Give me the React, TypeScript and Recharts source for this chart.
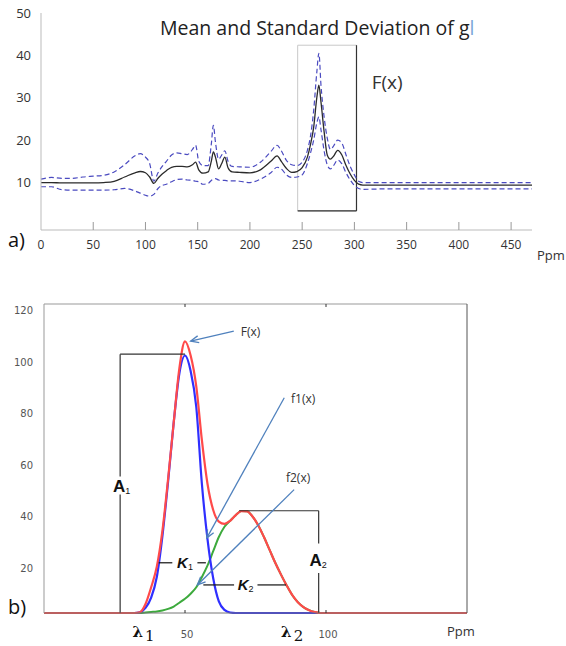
import React from "react";
import {
  LineChart,
  Line,
  XAxis,
  YAxis,
  ReferenceArea,
  ReferenceLine,
  ReferenceDot,
} from "recharts";

// ---- a) mean / standard deviation trace
const TOP_X = [
  0, 10, 20, 30, 40, 50, 60, 70, 80, 90, 95, 100, 104, 108, 112, 116, 120, 125, 130, 135, 140,
  145, 148, 151, 155, 160, 163, 165, 167, 170, 173, 176, 179, 183, 190, 200, 210, 220, 226, 230,
  235, 240, 245, 250, 255, 258, 261, 264, 266, 268, 271, 274, 277, 280, 284, 288, 292, 296, 300,
  304, 308, 330, 350, 370, 390, 410, 430, 450, 470,
];
const TOP_MEAN = [
  10, 10, 9.9, 9.9, 9.9, 9.9, 10, 10.3, 11.3, 12.3, 12.6, 12.3, 11.3, 9.8, 11, 12, 12.8, 13.6,
  13.8, 13.8, 13.7, 14.2, 14.8, 13, 12.2, 12.5, 15, 17.2, 16, 13.2, 14.5, 16, 13.5, 12.5, 12.4,
  12.3, 13, 15, 16.3, 15, 13.3, 12.4, 12.6, 13.5, 16, 19, 23, 30, 33, 29, 22, 16.5, 15.5, 16.2,
  17.6, 16.5, 14, 12, 10.5, 9.6, 9.4, 9.4, 9.4, 9.4, 9.4, 9.4, 9.4, 9.4, 9.4,
];
const TOP_UPPER = [
  10.8, 11.2, 11, 11, 11.3, 11.5, 11.7, 12.5, 14.2, 16.3, 16.8, 16, 14.5, 10.3, 12.3, 13.8, 15,
  16.5, 17, 16.8, 16.6, 17.8, 18.8, 15, 14, 14, 19, 23.5, 19.5, 15.5, 16.5, 17.5, 15, 13.8, 13.7,
  13.6, 14.8, 17.3, 18.8, 17.5, 15.2, 14.2, 14, 14.8, 17.6, 21, 27, 36, 40.5, 33, 25.5, 20.5,
  17.8, 18.6, 20, 19.3, 16.5, 13.8, 11.8, 10.3, 10, 10, 10, 10, 10, 10, 10, 10, 10,
];
const TOP_LOWER = [
  9, 9, 8.3, 8.2, 8.2, 8.2, 8.2, 8.3, 8.6, 8, 7.5, 7, 6.8, 7.2, 8.6, 9.3, 9.6, 10.2, 10.7, 10.8,
  10.6, 10.5, 10.3, 10.2, 9.6, 9.8, 10.5, 10.8, 10.9, 10.6, 10.5, 10.5, 10.4, 10.4, 10.3, 10,
  10.8, 12.3, 13.6, 13.2, 11.8, 11.2, 11.3, 11.8, 14.5, 17, 20, 24, 25.5, 22.5, 17.5, 14.2, 13.2,
  14, 15.3, 14.4, 12.3, 10.6, 9.3, 8.6, 8.4, 8.5, 8.5, 8.5, 8.5, 8.5, 8.5, 8.5, 8.5,
];
const TOP_X_TICKS = [0, 50, 100, 150, 200, 250, 300, 350, 400, 450];
const TOP_Y_TICKS = [10, 20, 30, 40, 50];

// ---- b) decomposition of F(x) into f1(x) + f2(x)
const BOT_X = [
  0, 30, 32, 34, 36, 38, 40, 42, 44, 46, 48, 50, 52, 54, 56, 58, 60, 62, 64, 66, 68, 70, 72, 74,
  76, 78, 80, 82, 84, 86, 88, 90, 92, 94, 96, 98, 100, 150,
];
const BOT_F = [
  0, 0, 0, 0.3, 3.5, 10, 18, 32, 52, 74, 95, 105.5, 100, 88, 67, 50, 40, 35.5, 34.6, 35.8, 38,
  39.6, 39.5, 37.4, 34, 29.5, 24.5, 19.5, 15, 10.8, 7, 4.2, 2.3, 1.1, 0.4, 0, 0, 0,
];
const BOT_F1 = [
  0, 0, 0, 0.3, 2, 6, 14, 30, 51, 74, 93, 100, 94, 80, 50, 28.5, 13.5, 4.5, 1.2, 0.2, 0, 0, 0, 0,
  0, 0, 0, 0, 0, 0, 0, 0, 0, 0, 0, 0, 0, 0,
];
const BOT_F2 = [
  0, 0, 0, 0, 0.2, 0.4, 0.6, 1, 1.6, 2.5, 4, 5.5, 7.5, 10, 14, 18.5, 24, 29.5, 33.5, 35.8, 38,
  39.6, 39.5, 37.4, 34, 29.5, 24.5, 19.5, 15, 10.8, 7, 4.2, 2.3, 1.1, 0.4, 0, 0, 0,
];
const BOT_X_TICKS = [50, 100];
const BOT_Y_TICKS = [20, 40, 60, 80, 100, 120];
const BOT_RIGHT_TICKS = [20, 40, 60, 80, 100];

const SANS = "'Open Sans', 'Liberation Sans', sans-serif";
const SMALL = "'DejaVu Sans', sans-serif";
const ARROW = "#4f81bd";
const INK = "#333";

const topData = TOP_X.map((x, i) => ({
  x,
  mean: TOP_MEAN[i],
  upper: TOP_UPPER[i],
  lower: TOP_LOWER[i],
}));

const botData = BOT_X.map((x, i) => ({
  x,
  F: BOT_F[i],
  f1: BOT_F1[i],
  f2: BOT_F2[i],
}));

function TopXTick(props: any) {
  const { x, y, payload } = props;
  return (
    <g>
      {payload.value !== 0 && <line x1={x} x2={x} y1={y} y2={y - 8} stroke="#999" />}
      <text x={x} y={y + 19} textAnchor="middle" fontSize={12} fill={INK} fontFamily={SANS}>
        {payload.value}
      </text>
    </g>
  );
}

function BotXTick(props: any) {
  const { x, y, payload } = props;
  return (
    <g>
      <line x1={x} x2={x} y1={y} y2={y - 3} stroke="#333" />
      <text x={x + 2} y={y + 25} textAnchor="middle" fontSize={10} fill="#555" fontFamily={SMALL}>
        {payload.value}
      </text>
    </g>
  );
}

function BotYTick(props: any) {
  const { x, y, payload } = props;
  return (
    <text x={x} y={y + 10} textAnchor="end" fontSize={10} fill="#555" fontFamily={SMALL}>
      {payload.value}
    </text>
  );
}

function NoTick() {
  return <g />;
}

// line with an open arrow head at (x2, y2)
function ArrowShape(props: any) {
  const { x1, y1, x2, y2 } = props;
  const a = Math.atan2(y2 - y1, x2 - x1);
  const L = 8;
  const W = 3.5;
  const bx = x2 - L * Math.cos(a);
  const by = y2 - L * Math.sin(a);
  const p1 = `${bx + W * Math.sin(a)},${by - W * Math.cos(a)}`;
  const p2 = `${bx - W * Math.sin(a)},${by + W * Math.cos(a)}`;
  return (
    <g>
      <line x1={x1} y1={y1} x2={x2} y2={y2} stroke={ARROW} strokeWidth={1.3} />
      <polyline points={`${p1} ${x2},${y2} ${p2}`} fill="none" stroke={ARROW} strokeWidth={1.3} />
    </g>
  );
}

const plainText = (s: string, size: number, anchor: string, dy: number) => (p: any) => (
  <text x={p.cx} y={p.cy + dy} textAnchor={anchor} fontSize={size} fill={INK} fontFamily={SANS}>
    {s}
  </text>
);

const subText =
  (main: string, sub: string, italic: boolean, size: number, subSize: number, dy: number) =>
  (p: any) => (
    <text
      x={p.cx}
      y={p.cy + dy}
      textAnchor="middle"
      fontFamily="'Liberation Sans', Arial, sans-serif"
      fill="#111"
    >
      <tspan fontWeight="bold" fontStyle={italic ? "italic" : "normal"} fontSize={size}>
        {main}
      </tspan>
      <tspan fontSize={subSize} dy={2}>
        {sub}
      </tspan>
    </text>
  );

const lambdaText = (sub: string) => (p: any) => (
  <text x={p.cx} y={p.cy + 24} textAnchor="middle" fontFamily="'DejaVu Serif', serif" fill="#111">
    <tspan fontWeight="bold" fontSize={15}>
      λ
    </tspan>
    <tspan fontSize={15} dx={2} dy={4}>
      {sub}
    </tspan>
  </text>
);

const seg = (x1: number, y1: number, x2: number, y2: number) => [
  { x: x1, y: y1 },
  { x: x2, y: y2 },
];

export default function App() {
  return (
    <div style={{ position: "absolute", left: 0, top: 0, width: 566, height: 646, background: "#fff" }}>
      {/* a) */}
      <div style={{ position: "absolute", left: 0, top: 0 }}>
        <LineChart width={566} height={260} data={topData} margin={{ top: 13, right: 34, left: 0, bottom: 0 }}>
          <XAxis
            dataKey="x"
            type="number"
            domain={[0, 470]}
            ticks={TOP_X_TICKS}
            interval={0}
            axisLine={{ stroke: "#bbb" }}
            tickLine={false}
            tickSize={0}
            tickMargin={0}
            height={30}
            tick={<TopXTick />}
          />
          <YAxis
            type="number"
            domain={[-1.2, 50]}
            ticks={TOP_Y_TICKS}
            interval={0}
            width={41}
            axisLine={{ stroke: "#bbb" }}
            tickLine={false}
            tickSize={0}
            tickMargin={10}
            tick={{ fontSize: 13, fill: INK, fontFamily: SANS }}
          />
          <ReferenceArea x1={245.7} x2={302} y1={3.3} y2={42.4} fill="none" stroke="#c8c8c8" />
          <ReferenceLine segment={seg(302, 3.3, 302, 42.4)} stroke="#333" strokeWidth={1.2} />
          <ReferenceLine segment={seg(245.7, 3.3, 302, 3.3)} stroke="#333" strokeWidth={1.2} />
          <Line type="monotone" dataKey="upper" stroke="#4a4ac0" strokeWidth={1.2} strokeDasharray="5 3" dot={false} isAnimationActive={false} />
          <Line type="monotone" dataKey="lower" stroke="#4a4ac0" strokeWidth={1.2} strokeDasharray="5 3" dot={false} isAnimationActive={false} />
          <Line type="monotone" dataKey="mean" stroke="#2b2b2b" strokeWidth={1.3} dot={false} isAnimationActive={false} />
          <ReferenceDot x={316.5} y={33.8} r={0} shape={plainText("F(x)", 19, "start", 7)} />
        </LineChart>
      </div>
      <div
        style={{
          position: "absolute",
          left: 160,
          top: 14,
          fontFamily: SANS,
          fontSize: 19.5,
          color: "#222",
          whiteSpace: "nowrap",
        }}
      >
        Mean and Standard Deviation of g<span style={{ color: "#7aa7d8" }}>l</span>
      </div>
      <div style={{ position: "absolute", left: 8, top: 226, fontFamily: SANS, fontSize: 20, color: "#111" }}>a)</div>
      <div style={{ position: "absolute", left: 537, top: 246, fontFamily: SANS, fontSize: 13, color: INK }}>Ppm</div>

      {/* b) */}
      <div style={{ position: "absolute", left: 0, top: 290 }}>
        <LineChart width={566} height={356} data={botData} margin={{ top: 14, right: 99, left: 0, bottom: 0 }}>
          <XAxis
            dataKey="x"
            type="number"
            domain={[0, 150]}
            ticks={BOT_X_TICKS}
            interval={0}
            axisLine={{ stroke: "#777" }}
            tickLine={false}
            tickSize={0}
            tickMargin={0}
            height={33}
            tick={<BotXTick />}
          />
          <XAxis
            xAxisId="top"
            dataKey="x"
            orientation="top"
            type="number"
            domain={[0, 150]}
            ticks={BOT_X_TICKS}
            interval={0}
            mirror
            height={1}
            tickSize={3}
            axisLine={{ stroke: "#999" }}
            tickLine={{ stroke: "#333" }}
            tick={<NoTick />}
          />
          <YAxis
            type="number"
            domain={[0, 120]}
            ticks={BOT_Y_TICKS}
            interval={0}
            width={44}
            axisLine={{ stroke: "#999" }}
            tickLine={false}
            tickSize={0}
            tickMargin={11}
            tick={<BotYTick />}
          />
          <YAxis
            yAxisId="r"
            orientation="right"
            type="number"
            domain={[0, 120]}
            ticks={BOT_RIGHT_TICKS}
            interval={0}
            mirror
            width={1}
            tickSize={6}
            axisLine={{ stroke: "#555" }}
            tickLine={{ stroke: "#444" }}
            tick={<NoTick />}
          />

          <Line type="monotone" dataKey="f2" stroke="#3daa3d" strokeWidth={2} dot={false} isAnimationActive={false} />
          <Line type="monotone" dataKey="f1" stroke="#2f2fff" strokeWidth={2.2} dot={false} isAnimationActive={false} />
          <Line type="monotone" dataKey="F" stroke="#ff4a4a" strokeWidth={2.2} dot={false} isAnimationActive={false} />

          {/* A1 bracket */}
          <ReferenceLine segment={seg(27, 100.5, 50, 100.5)} stroke={INK} strokeWidth={1.2} />
          <ReferenceLine segment={seg(27, 100.5, 27, 53)} stroke={INK} strokeWidth={1.2} />
          <ReferenceLine segment={seg(27, 46, 27, 0)} stroke={INK} strokeWidth={1.2} />
          <ReferenceDot x={27.5} y={49.5} r={0} shape={subText("A", "1", false, 17, 9, 6)} />

          {/* K1 width */}
          <ReferenceLine segment={seg(40.7, 19.5, 45.5, 19.5)} stroke="#111" strokeWidth={1.2} />
          <ReferenceLine segment={seg(54.4, 19.5, 57.4, 19.5)} stroke="#111" strokeWidth={1.2} />
          <ReferenceDot x={50} y={19.5} r={0} shape={subText("K", "1", true, 15, 9, 5)} />

          {/* K2 width */}
          <ReferenceLine segment={seg(56.5, 10.9, 67.4, 10.9)} stroke="#111" strokeWidth={1.2} />
          <ReferenceLine segment={seg(75.7, 10.9, 85.8, 10.9)} stroke="#111" strokeWidth={1.2} />
          <ReferenceDot x={71.5} y={10.9} r={0} shape={subText("K", "2", true, 15, 9, 5)} />

          {/* A2 bracket */}
          <ReferenceLine segment={seg(69.2, 39.7, 97.4, 39.7)} stroke={INK} strokeWidth={1.2} />
          <ReferenceLine segment={seg(97.4, 39.7, 97.4, 27)} stroke={INK} strokeWidth={1.2} />
          <ReferenceLine segment={seg(97.4, 15.5, 97.4, 0)} stroke={INK} strokeWidth={1.2} />
          <ReferenceDot x={97.2} y={20.6} r={0} shape={subText("A", "2", false, 17, 9, 6)} />

          {/* arrows to the curves */}
          <ReferenceLine segment={seg(67.3, 109.5, 52, 105.6)} shape={ArrowShape} />
          <ReferenceLine segment={seg(85.2, 83.6, 57.7, 29.1)} shape={ArrowShape} />
          <ReferenceLine segment={seg(88.7, 47.9, 54.4, 10.9)} shape={ArrowShape} />
          <ReferenceDot x={69.8} y={109} r={0} shape={plainText("F(x)", 12, "start", 4)} />
          <ReferenceDot x={87.6} y={83} r={0} shape={plainText("f1(x)", 12, "start", 4)} />
          <ReferenceDot x={85.8} y={52.6} r={0} shape={plainText("f2(x)", 12, "start", 4)} />

          <ReferenceDot x={35.3} y={0} r={0} ifOverflow="visible" shape={lambdaText("1")} />
          <ReferenceDot x={88} y={0} r={0} ifOverflow="visible" shape={lambdaText("2")} />
        </LineChart>
      </div>
      <div style={{ position: "absolute", left: 8, top: 593, fontFamily: SANS, fontSize: 20, color: "#111" }}>b)</div>
      <div style={{ position: "absolute", left: 447, top: 622, fontFamily: SANS, fontSize: 13, color: INK }}>Ppm</div>
    </div>
  );
}
